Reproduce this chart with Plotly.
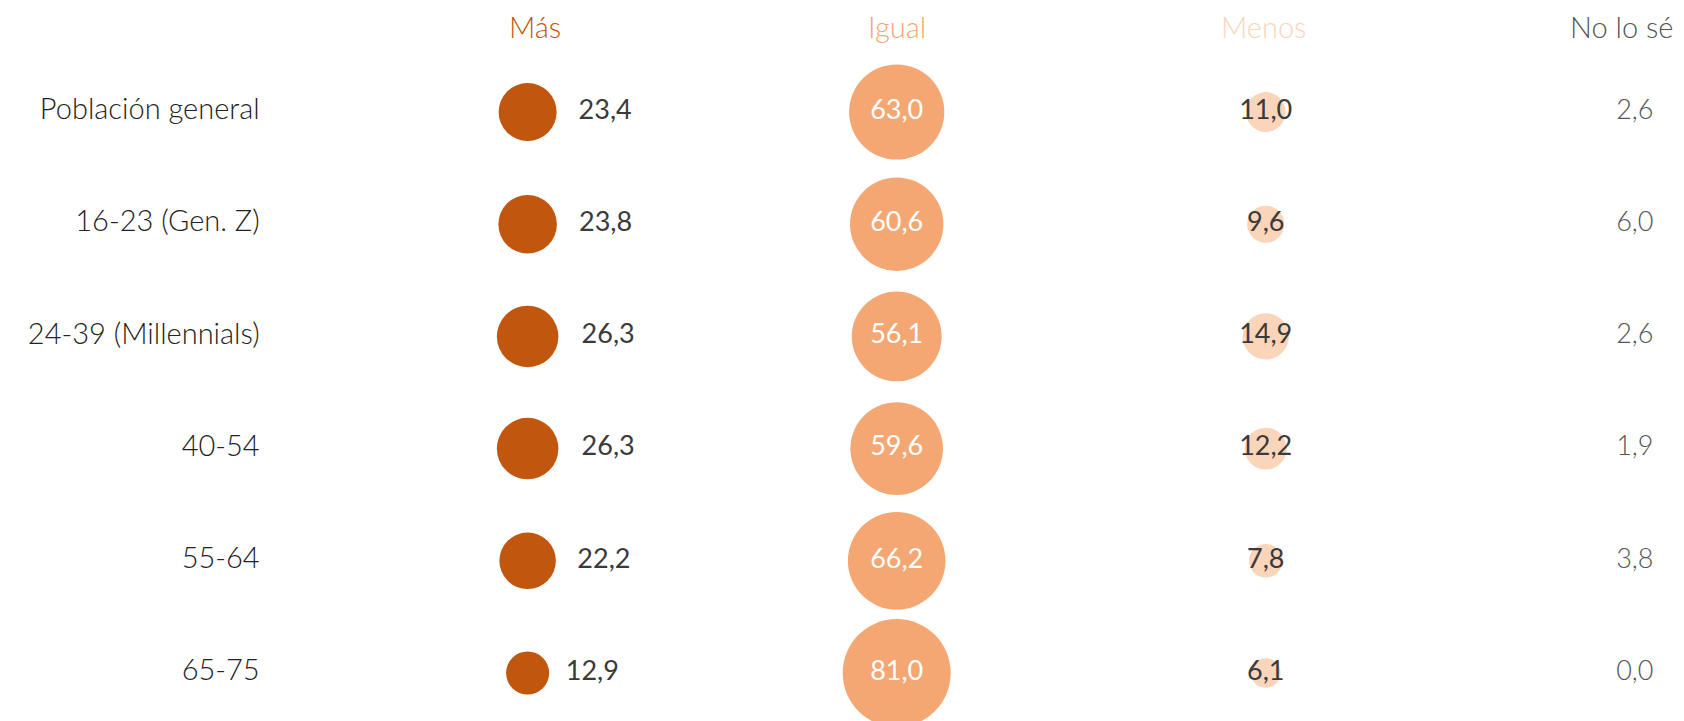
import numpy as np
import plotly.graph_objects as go

rows = ["Población general", "16-23 (Gen. Z)", "24-39 (Millennials)", "40-54", "55-64", "65-75"]
columns = ["Más", "Igual", "Menos", "No lo sé"]
mas = [23.4, 23.8, 26.3, 26.3, 22.2, 12.9]
igual = [63.0, 60.6, 56.1, 59.6, 66.2, 81.0]
menos = [11.0, 9.6, 14.9, 12.2, 7.8, 6.1]
nolose = [2.6, 6.0, 2.6, 1.9, 3.8, 0.0]

C_MAS = "#C1570F"
C_IGUAL = "#F4A772"
C_MENOS = "#FAD5BA"
C_NOLOSE = "#555555"
FONT = "Lato"
SIZEREF = 0.0139

def fmt(v):
    return f"{v:.1f}".replace(".", ",")

yi = list(range(len(rows)))
fig = go.Figure()

# Más bubbles with labels to the right
fig.add_trace(go.Scatter(
    x=[0] * len(rows), y=yi, mode="markers",
    marker=dict(size=mas, sizemode="area", sizeref=SIZEREF, color=C_MAS, opacity=1, line=dict(width=0)),
    hoverinfo="skip"))
fig.add_trace(go.Scatter(
    x=[0] * len(rows), y=yi, mode="markers+text",
    marker=dict(size=[v * 1.9 for v in mas], sizemode="area", sizeref=SIZEREF, opacity=0),
    text=[fmt(v) for v in mas], textposition="middle right",
    textfont=dict(family=FONT, size=27, color="#3A3A3A"), hoverinfo="skip"))

# Igual bubbles
fig.add_trace(go.Scatter(
    x=[1] * len(rows), y=yi, mode="markers+text",
    marker=dict(size=igual, sizemode="area", sizeref=SIZEREF, color=C_IGUAL, opacity=1, line=dict(width=0)),
    text=[fmt(v) for v in igual], textposition="middle center",
    textfont=dict(family=FONT, size=27, color="#FFFFFF"), hoverinfo="skip"))

# Menos bubbles
fig.add_trace(go.Scatter(
    x=[2] * len(rows), y=yi, mode="markers+text",
    marker=dict(size=menos, sizemode="area", sizeref=SIZEREF, color=C_MENOS, opacity=1, line=dict(width=0)),
    text=[fmt(v) for v in menos], textposition="middle center",
    textfont=dict(family=FONT, size=27, color="#3A3A3A"), hoverinfo="skip"))

# No lo sé text only
fig.add_trace(go.Scatter(
    x=[3] * len(rows), y=yi, mode="text",
    text=[fmt(v) for v in nolose], textposition="middle center",
    textfont=dict(family=FONT, size=27, color="#555555", weight=300), hoverinfo="skip"))

# Row labels
fig.add_trace(go.Scatter(
    x=[-0.726] * len(rows), y=yi, mode="text",
    text=rows, textposition="middle left",
    textfont=dict(family=FONT, size=29, color="#222222", weight=300), hoverinfo="skip"))

# Column headers as annotations
header_x = [0.02, 1, 1.995, 3.11]
header_anchor = ["center", "center", "center", "right"]
header_colors = [C_MAS, C_IGUAL, C_MENOS, C_NOLOSE]
for name, hx, anc, col in zip(columns, header_x, header_anchor, header_colors):
    fig.add_annotation(
        x=hx, y=-0.765, xref="x", yref="y", text=name, showarrow=False,
        xanchor=anc, yanchor="middle",
        font=dict(family=FONT, size=29, color=col, weight=300))

fig.update_layout(
    width=1684, height=721,
    margin=dict(l=0, r=0, t=0, b=0),
    paper_bgcolor="white", plot_bgcolor="white",
    showlegend=False,
    xaxis=dict(range=[-1.408, 3.155], visible=False, fixedrange=True),
    yaxis=dict(range=[5.499, -0.927], visible=False, fixedrange=True),
)

fig.write_html("out.html")
